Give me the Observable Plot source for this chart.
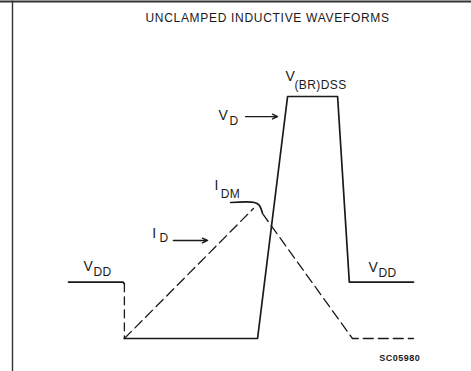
<!DOCTYPE html>
<html>
<head>
<meta charset="utf-8">
<script src="https://cdn.jsdelivr.net/npm/d3@7"></script>
<script src="https://cdn.jsdelivr.net/npm/@observablehq/plot@0.6"></script>
<style>
  body { margin: 0; background: #fff; }
</style>
</head>
<body>
<div id="chart"></div>
<script>
// Waveform data: time in arbitrary units (0..100), level in arbitrary units (0 = ground, 100 = V(BR)DSS)
const vddLevel = 23.3;

const vddLeftTime  = [0, 15.8, 16.2];
const vddLeftLevel = [vddLevel, vddLevel, 22.6];

const vdDropTime  = [16.2, 16.2];
const vdDropLevel = [22.6, 0];

const vdTime  = [16.2, 54.8, 63.5, 78.0, 81.4, 100];
const vdLevel = [0, 0, 100, 100, vddLevel, vddLevel];

const idRiseTime  = [16.2, 53.6];
const idRiseLevel = [0, 53.7];

const idmTime  = [47.0, 53.9, 55.2, 56.2];
const idmLevel = [56.2, 56.2, 55.2, 52.0];

const idFallTime  = [56.2, 82.3, 100];
const idFallLevel = [51.7, 0, 0];

// Labels (main letter + subscript)
const mainText  = ["V", "V", "V", "V", "I", "I"];
const mainTime  = [4.35, 86.96, 62.9, 43.5, 24.3, 42.3];
const mainLevel = [27.7, 27.3, 106.2, 90.1, 41.7, 61.2];

const subText  = ["DD", "DD", "(BR)DSS", "D", "D", "DM"];
const subTime  = [7.25, 89.86, 65.5, 46.7, 26.4, 44.1];
const subLevel = [26.0, 25.6, 102.9, 88.4, 39.7, 57.9];

// Pointer arrows
const arrowStart = [51.3, 30.4];
const arrowEnd   = [60.6, 40.3];
const arrowLevel = [91.7, 40.5];

const titleText = "UNCLAMPED INDUCTIVE WAVEFORMS";
const codeText = "SC05980";

const rows = (t, v) => t.map((d, i) => ({t: d, v: v[i]}));
const ink = "#1a1a1a";
const font = "Liberation Sans, Arial, sans-serif";

const chart = Plot.plot({
  width: 471,
  height: 371,
  marginTop: 1,
  marginLeft: 12,
  marginRight: 4,
  marginBottom: 0,
  x: {domain: [0, 100], range: [68, 413], axis: null},
  y: {domain: [0, 100], range: [338, 96], axis: null},
  style: {background: "#fff"},
  marks: [
    Plot.frame({anchor: "top", stroke: "#333", strokeWidth: 2, insetLeft: -12, insetRight: -4}),
    Plot.frame({anchor: "left", stroke: "#333", strokeWidth: 1.4}),
    Plot.line(rows(vddLeftTime, vddLeftLevel), {x: "t", y: "v", stroke: ink, strokeWidth: 1.7}),
    Plot.line(rows(vdDropTime, vdDropLevel), {x: "t", y: "v", stroke: ink, strokeWidth: 1.3, strokeDasharray: "8,5"}),
    Plot.line(rows(vdTime, vdLevel), {x: "t", y: "v", stroke: ink, strokeWidth: 1.7}),
    Plot.line(rows(idRiseTime, idRiseLevel), {x: "t", y: "v", stroke: ink, strokeWidth: 1.3, strokeDasharray: "10,5"}),
    Plot.line(rows(idmTime, idmLevel), {x: "t", y: "v", stroke: ink, strokeWidth: 1.7, curve: "catmull-rom"}),
    Plot.line(rows(idFallTime, idFallLevel), {x: "t", y: "v", stroke: ink, strokeWidth: 1.3, strokeDasharray: "10,5"}),
    Plot.arrow(arrowStart.map((d, i) => ({t1: d, t2: arrowEnd[i], v: arrowLevel[i]})),
      {x1: "t1", x2: "t2", y1: "v", y2: "v", stroke: ink, strokeWidth: 1.4, headLength: 6, headAngle: 50}),
    Plot.text(rows(mainTime, mainLevel).map((d, i) => ({...d, s: mainText[i]})),
      {x: "t", y: "v", text: "s", textAnchor: "start", lineAnchor: "bottom", fontSize: 14, fill: ink, fontFamily: font}),
    Plot.text(rows(subTime, subLevel).map((d, i) => ({...d, s: subText[i]})),
      {x: "t", y: "v", text: "s", textAnchor: "start", lineAnchor: "bottom", fontSize: 12, fill: ink, fontFamily: font}),
    Plot.text([{t: 57.7, v: 130.6, s: titleText}],
      {x: "t", y: "v", text: "s", textAnchor: "middle", lineAnchor: "bottom", fontSize: 12, fill: ink, fontFamily: font}),
    Plot.text([{t: 90.1, v: -9.5, s: codeText}],
      {x: "t", y: "v", text: "s", textAnchor: "start", lineAnchor: "bottom", fontSize: 9, fontWeight: "bold", fill: ink, fontFamily: font})
  ]
});
d3.select(chart).selectAll("text")
  .filter(function() { return this.textContent === titleText; })
  .style("letter-spacing", "0.7px");
d3.select(chart).selectAll("text")
  .filter(function() { return this.textContent === codeText; })
  .style("letter-spacing", "0.5px");
d3.select(chart).selectAll("text")
  .filter(function() { return subText.includes(this.textContent); })
  .style("letter-spacing", "0.4px");
document.getElementById("chart").appendChild(chart);
</script>
</body>
</html>
